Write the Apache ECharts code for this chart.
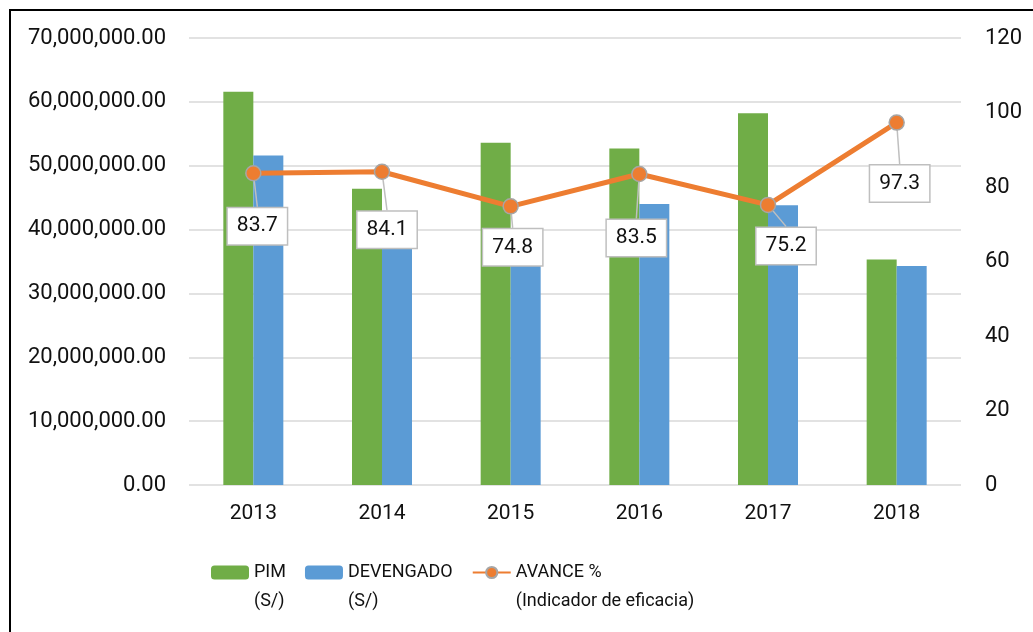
<!DOCTYPE html>
<html>
<head>
<meta charset="utf-8">
<script src="https://cdn.jsdelivr.net/npm/echarts@6/dist/echarts.min.js"></script>
<style>
  html, body { margin: 0; padding: 0; background: #fff; overflow: hidden; }
  #frame {
    position: absolute; left: 9px; top: 9px; width: 1040px; height: 640px;
    border-top: 2px solid #000; border-left: 2px solid #000;
  }
  #chart { position: absolute; left: 0; top: 0; width: 1033px; height: 632px; }
</style>
</head>
<body>
<div id="frame"></div>
<div id="chart"></div>
<script>
// data
const years = ['2013', '2014', '2015', '2016', '2017', '2018'];
const pim = [61600000, 46400000, 53600000, 52700000, 58200000, 35300000];
const devengado = [51600000, 39000000, 40100000, 44000000, 43800000, 34300000];
const avance = [83.7, 84.1, 74.8, 83.5, 75.2, 97.3];

// legend second lines
const subText = { 'PIM': '(S/)', 'DEVENGADO': '(S/)', 'AVANCE %': '(Indicador de eficacia)' };

// callout offsets (label centre relative to the point)
const calloutOffsets = [[4, 53], [5, 58], [2, 41], [-3, 64], [18, 41], [3, 61]];

const FONT = 'Roboto';

const fmtMoney = (v) => {
    const parts = v.toFixed(2).split('.');
    return parts[0].replace(/\B(?=(\d{3})+(?!\d))/g, ',') + '.' + parts[1];
};

const chart = echarts.init(document.getElementById('chart'));

const option = {
    animation: false,
    textStyle: { fontFamily: FONT },
    grid: { left: 189, right: 72, top: 38, bottom: 147 },
    legend: {
        left: 206,
        top: 524,
        itemWidth: 38,
        itemHeight: 14,
        itemGap: 19,
        data: ['PIM', 'DEVENGADO', 'AVANCE %'],
        textStyle: { fontFamily: FONT, fontSize: 18, color: '#111', lineHeight: 29 },
        formatter: (name) => '\n' + name + '\n' + subText[name]
    },
    xAxis: {
        type: 'category',
        data: years,
        axisLine: { show: false },
        axisTick: { show: false },
        axisLabel: { color: '#111', fontSize: 21, fontFamily: FONT, margin: 18 }
    },
    yAxis: [
        {
            type: 'value',
            min: 0,
            max: 70000000,
            interval: 10000000,
            axisLine: { show: false },
            axisTick: { show: false },
            splitLine: { lineStyle: { color: '#d9d9d9', width: 1.5 } },
            axisLabel: { color: '#111', fontSize: 22, fontFamily: FONT, margin: 23, formatter: fmtMoney }
        },
        {
            type: 'value',
            min: 0,
            max: 120,
            interval: 20,
            position: 'right',
            axisLine: { show: false },
            axisTick: { show: false },
            splitLine: { show: false },
            axisLabel: { color: '#111', fontSize: 22, fontFamily: FONT, margin: 24 }
        }
    ],
    series: [
        {
            name: 'PIM',
            type: 'bar',
            data: pim,
            barWidth: 30,
            barGap: '0%',
            itemStyle: { color: '#70AD47' }
        },
        {
            name: 'DEVENGADO',
            type: 'bar',
            data: devengado,
            barWidth: 30,
            itemStyle: { color: '#5B9BD5' }
        },
        {
            name: 'AVANCE %',
            type: 'line',
            yAxisIndex: 1,
            data: avance,
            symbol: 'circle',
            symbolSize: 15,
            lineStyle: { color: '#ED7D31', width: 5 },
            itemStyle: { color: '#ED7D31', borderColor: '#a6a6a6', borderWidth: 1.5 },
            z: 5,
            label: {
                show: true,
                position: 'inside',
                fontFamily: FONT,
                fontSize: 21,
                color: '#111',
                backgroundColor: '#fff',
                borderColor: '#bfbfbf',
                borderWidth: 1.5,
                padding: [8, 9, 7, 9],
                formatter: (p) => p.value.toFixed(1)
            },
            labelLine: {
                show: true,
                lineStyle: { color: '#bfbfbf', width: 1.5 }
            },
            labelLayout: (p) => ({
                dx: calloutOffsets[p.dataIndex][0],
                dy: calloutOffsets[p.dataIndex][1]
            })
        }
    ]
};

chart.setOption(option);
window.addEventListener('resize', () => chart.resize());
</script>
</body>
</html>
